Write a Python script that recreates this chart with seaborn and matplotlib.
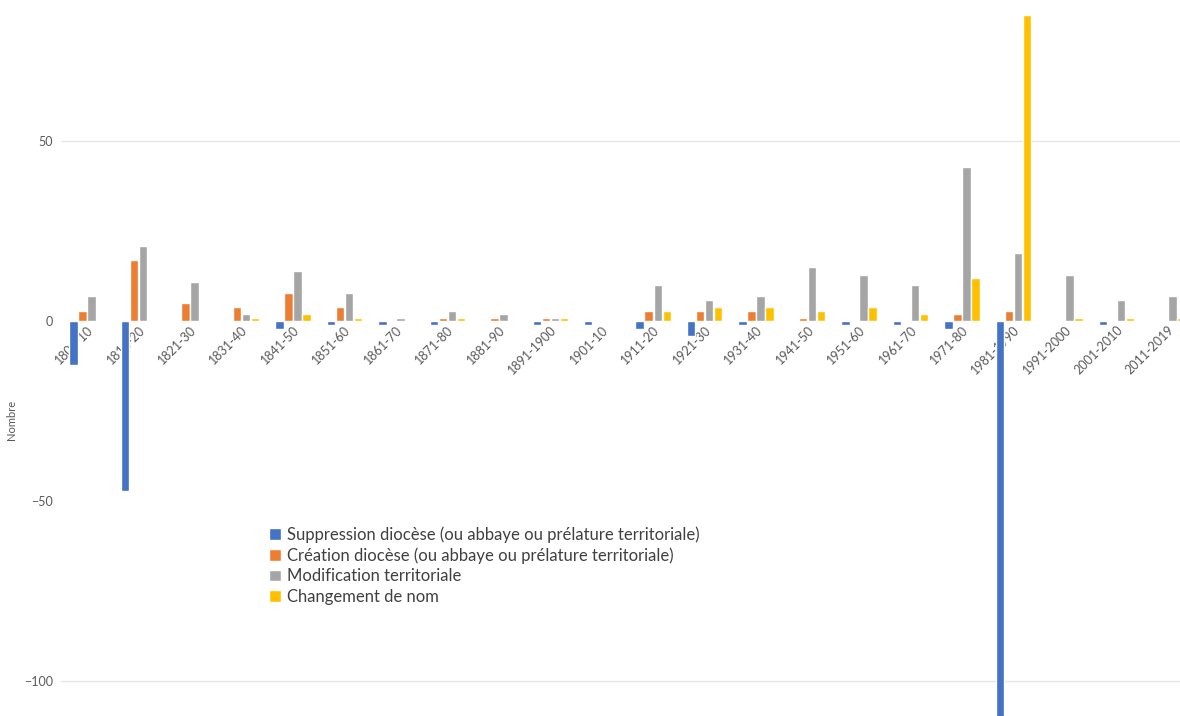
"""Diocèses : suppressions, créations, modifications par décennie"""
import matplotlib.pyplot as plt
import pandas as pd
import seaborn as sns

periodes = ["1801-10", "1811-20", "1821-30", "1831-40", "1841-50", "1851-60",
            "1861-70", "1871-80", "1881-90", "1891-1900", "1901-10", "1911-20",
            "1921-30", "1931-40", "1941-50", "1951-60", "1961-70", "1971-80",
            "1981-1990", "1991-2000", "2001-2010", "2011-2019"]
suppression = [-12, -47, 0, 0, -2, -1, -1, -1, 0, -1, -1, -2,
               -4, -1, 0, -1, -1, -2, -125, 0, -1, 0]
creation = [3, 17, 5, 4, 8, 4, 0, 1, 1, 1, 0, 3,
            3, 3, 1, 0, 0, 2, 3, 0, 0, 0]
modification = [7, 21, 11, 2, 14, 8, 1, 3, 2, 1, 0, 10,
                6, 7, 15, 13, 10, 43, 19, 13, 6, 7]
changement = [0, 0, 0, 1, 2, 1, 0, 1, 0, 1, 0, 3,
              4, 4, 3, 4, 2, 12, 85, 1, 1, 1]
series = ["Suppression diocèse (ou abbaye ou prélature territoriale)",
          "Création diocèse (ou abbaye ou prélature territoriale)",
          "Modification territoriale",
          "Changement de nom"]
couleurs = ["#4472C4", "#ED7D31", "#A5A5A5", "#FFC000"]
y_ticks = [-100, -50, 0, 50]
grilles = [50, -100]

# tableau long pour seaborn
frames = []
for nom, vals in zip(series, [suppression, creation, modification, changement]):
    frames.append(pd.DataFrame({"periode": periodes, "nombre": vals, "type": nom}))
df = pd.concat(frames, ignore_index=True)

sns.set_theme(style="white")
plt.rcParams["font.family"] = ["Lato", "DejaVu Sans"]

fig = plt.figure(figsize=(11.8, 7.16), dpi=100)
ax = fig.add_axes([61.3 / 1180, 0, 1132.4 / 1180, 1])

for g in grilles:
    ax.axhline(g, color="#E6E6E6", linewidth=1, zorder=0)

sns.barplot(data=df, x="periode", y="nombre", hue="type", palette=couleurs,
            saturation=1, width=0.7, gap=0.06, errorbar=None, ax=ax, zorder=2)

ax.set_xlim(-0.5, len(periodes) - 0.5)
ax.set_ylim(-109.6, 89.25)
ax.set_yticks(y_ticks)
ax.set_xlabel("")
ax.set_ylabel("Nombre", fontsize=8, color="#595959")
ax.yaxis.set_label_coords((17 - 61.3) / 1132.4, 1 - 420 / 716)

for s in ["top", "right", "left"]:
    ax.spines[s].set_visible(False)
ax.spines["bottom"].set_position(("data", 0))
ax.spines["bottom"].set_visible(False)

ax.tick_params(axis="y", length=0, pad=6, labelsize=9, labelcolor="#595959")
ax.tick_params(axis="x", length=0, pad=2, labelsize=9, labelcolor="#595959")
for lab in ax.get_xticklabels():
    lab.set_rotation(45)
    lab.set_ha("right")
    lab.set_rotation_mode("anchor")

ax.legend(loc="upper left", bbox_to_anchor=(254 / 1180, 1 - 511 / 716),
          bbox_transform=fig.transFigure, frameon=False, fontsize=12,
          handlelength=0.7, handleheight=0.7, handletextpad=0.4,
          labelspacing=0.28, labelcolor="#404040")

fig.savefig("out.png", dpi=100)
